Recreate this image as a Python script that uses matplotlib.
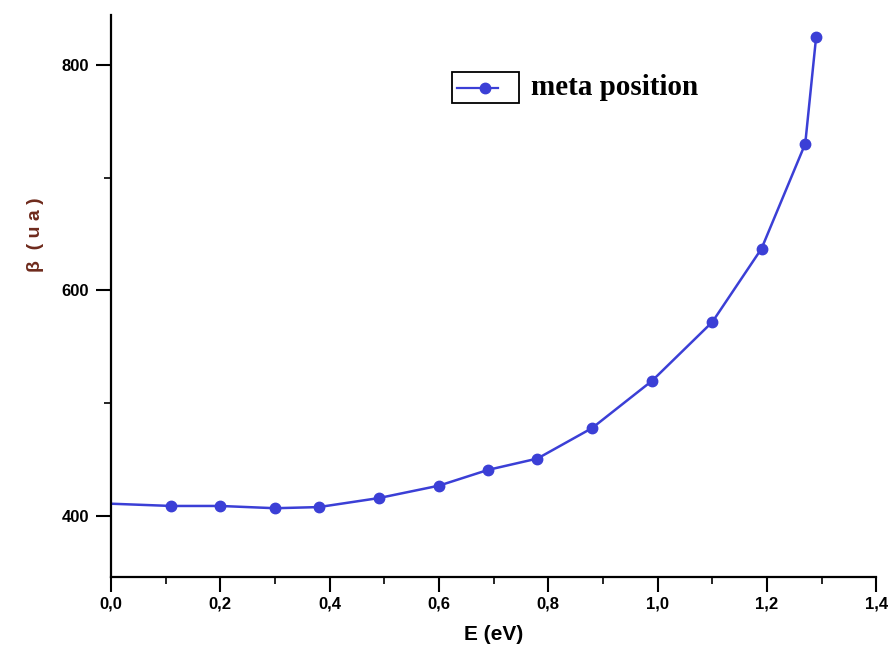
import matplotlib
matplotlib.use("Agg")
import matplotlib.pyplot as plt
from matplotlib.lines import Line2D
from matplotlib.patches import Rectangle
from matplotlib.ticker import MultipleLocator, FixedLocator

# Data
E_eV = [0.11, 0.20, 0.30, 0.38, 0.49, 0.60, 0.69, 0.78, 0.88, 0.99, 1.10, 1.19, 1.27, 1.29]
beta_ua = [409, 409, 407, 408, 416, 427, 441, 451, 478, 520, 572, 637, 730, 825]
curve_start = (0.0, 411)

x_ticks = [0.0, 0.2, 0.4, 0.6, 0.8, 1.0, 1.2, 1.4]
x_ticklabels = ["0,0", "0,2", "0,4", "0,6", "0,8", "1,0", "1,2", "1,4"]
y_ticks = [400, 600, 800]
y_ticklabels = ["400", "600", "800"]
series_label = "meta position"

blue = "#3b3fd6"

fig = plt.figure(figsize=(8.93, 6.55), dpi=100)
ax = fig.add_axes([0.1243, 0.119, 0.857, 0.858])

ax.plot([curve_start[0]] + E_eV, [curve_start[1]] + beta_ua, color=blue, lw=1.8, zorder=2)
ax.plot(E_eV, beta_ua, linestyle="none", marker="o", ms=7.5, color=blue, zorder=3)

ax.set_xlim(0.0, 1.4)
ax.set_ylim(346, 844)

for s in ["top", "right"]:
    ax.spines[s].set_visible(False)
for s in ["left", "bottom"]:
    ax.spines[s].set_linewidth(1.6)
    ax.spines[s].set_color("black")

ax.xaxis.set_major_locator(FixedLocator(x_ticks))
ax.set_xticklabels(x_ticklabels)
ax.xaxis.set_minor_locator(MultipleLocator(0.1))
ax.yaxis.set_major_locator(FixedLocator(y_ticks))
ax.set_yticklabels(y_ticklabels)
ax.yaxis.set_minor_locator(MultipleLocator(100))

ax.tick_params(axis="both", which="major", direction="out", length=11, width=1.5, colors="black")
ax.tick_params(axis="both", which="minor", direction="out", length=5, width=1.2, colors="black")
ax.tick_params(axis="x", which="major", pad=3)
ax.tick_params(axis="y", which="major", pad=5)
for lab in ax.get_xticklabels() + ax.get_yticklabels():
    lab.set_fontfamily("Liberation Sans")
    lab.set_fontweight("bold")
    lab.set_fontsize(12)

ax.set_xlabel("E (eV)", fontfamily="Liberation Sans", fontweight="bold", fontsize=15, labelpad=10)
fig.text(0.040, 0.641, "β  ( u a )", rotation=90, ha="center", va="center",
         fontfamily="Liberation Sans", fontweight="bold", fontsize=14, color="#6e2a1c")

# Legend (box around handle only, as in the reference)
fig.add_artist(Rectangle((0.506, 0.843), 0.075, 0.047, transform=fig.transFigure,
                         fill=False, edgecolor="black", lw=1.3))
fig.add_artist(Line2D([0.512, 0.558], [0.865, 0.865], transform=fig.transFigure, color=blue, lw=1.6))
fig.add_artist(Line2D([0.543], [0.865], transform=fig.transFigure, color=blue, marker="o", ms=7.5,
                      linestyle="none"))
fig.text(0.595, 0.867, series_label, ha="left", va="center",
         fontfamily="Liberation Serif", fontweight="bold", fontsize=21, color="black")

fig.savefig("out.png", dpi=100)
